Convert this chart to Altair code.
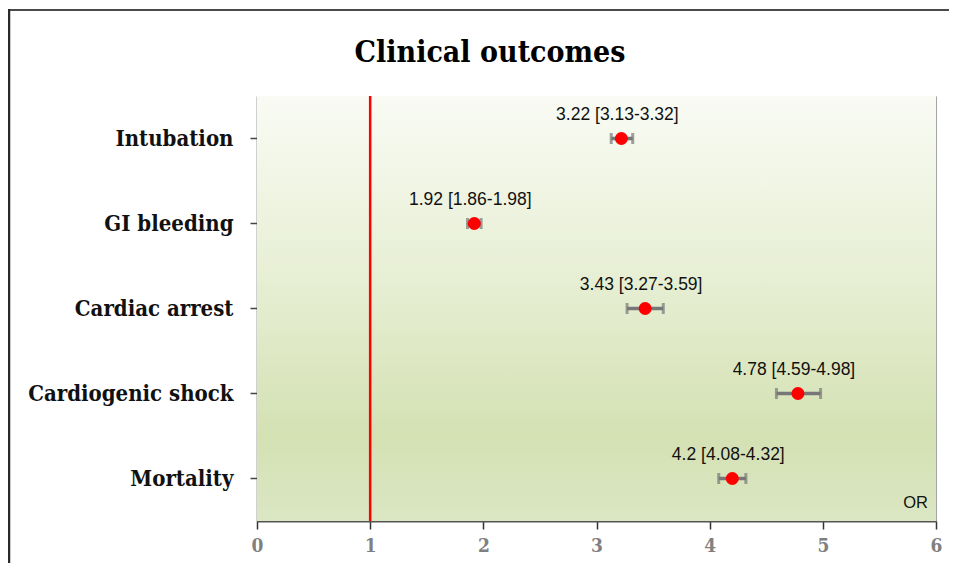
import altair as alt
import pandas as pd

outcomes = ["Intubation", "GI bleeding", "Cardiac arrest", "Cardiogenic shock", "Mortality"]
odds_ratio = [3.22, 1.92, 3.43, 4.78, 4.2]
ci_low = [3.13, 1.86, 3.27, 4.59, 4.08]
ci_high = [3.32, 1.98, 3.59, 4.98, 4.32]
x_ticks = [0, 1, 2, 3, 4, 5, 6]
chart_title = "Clinical outcomes"

labels = [f"{o:g} [{l:g}-{h:g}]" for o, l, h in zip(odds_ratio, ci_low, ci_high)]
df = pd.DataFrame({"outcome": outcomes, "or": odds_ratio, "lo": ci_low, "hi": ci_high, "label": labels})
one = pd.DataFrame({"k": [0]})

W, H = 679, 425
serif = "DejaVu Serif Condensed, Liberation Serif"
sans = "Liberation Sans"

xscale = alt.Scale(domain=[0, 6], nice=False, zero=True)
yscale = alt.Scale(domain=outcomes, paddingInner=0, paddingOuter=0)

# outer frame (top and left edges; the right and bottom lie outside the picture)
frame_top = alt.Chart(one).mark_rule(color="#4a4a4a", strokeWidth=2).encode(
    x=alt.value(-249), x2=alt.value(W + 80), y=alt.value(-86)
)
frame_left = alt.Chart(one).mark_rule(color="#2a2a2a", strokeWidth=2.5).encode(
    x=alt.value(-248), y=alt.value(-87), y2=alt.value(H + 120)
)

title_mark = alt.Chart(one).mark_text(font=serif, fontWeight="bold", fontSize=30, color="#000000",
                                      align="center", baseline="alphabetic", text=chart_title).encode(
    x=alt.value(233), y=alt.value(-34)
)

bg = alt.Chart(one).mark_rect(
    fill=alt.Gradient(
        gradient="linear",
        stops=[
            alt.GradientStop(color="#f9fbf4", offset=0),
            alt.GradientStop(color="#e6eed2", offset=0.45),
            alt.GradientStop(color="#d4e1b3", offset=0.8),
            alt.GradientStop(color="#dbe6c3", offset=1),
        ],
        x1=0, x2=0, y1=0, y2=1,
    )
).encode(x=alt.value(0), x2=alt.value(W), y=alt.value(0), y2=alt.value(H))

base = alt.Chart(df)

axis_layer = base.mark_point(opacity=0).encode(
    x=alt.X("or:Q", scale=xscale, title=None,
            axis=alt.Axis(values=x_ticks, format="d", grid=True, gridColor="#a5a5a5", gridWidth=1,
                          domainColor="#555555", domainWidth=2, tickColor="#333333", tickSize=8, tickWidth=1.5,
                          labelColor="#808080", labelFont=serif, labelFontWeight="bold", labelFontSize=19,
                          labelPadding=7, labelFlush=False)),
    y=alt.Y("outcome:N", scale=yscale, sort=outcomes, title=None,
            axis=alt.Axis(domainColor="#444444", domainWidth=1.5, tickColor="#444444", tickSize=7, tickWidth=1.5,
                          labelColor="#111111", labelFont=serif, labelFontWeight="bold", labelFontSize=22,
                          labelPadding=17, labelLimit=400, grid=False)),
)

ref = alt.Chart(one).mark_rule(color="#ff0000", strokeWidth=2.5).encode(
    x=alt.datum(1, scale=xscale), y=alt.value(0), y2=alt.value(H)
)

err = base.mark_rule(color="#777777", strokeWidth=3.5).encode(
    x=alt.X("lo:Q", scale=xscale), x2="hi:Q", y=alt.Y("outcome:N", scale=yscale, sort=outcomes)
)
cap_lo = base.mark_tick(color="#777777", orient="vertical", size=11, thickness=3).encode(
    x=alt.X("lo:Q", scale=xscale), y=alt.Y("outcome:N", scale=yscale, sort=outcomes)
)
cap_hi = base.mark_tick(color="#777777", orient="vertical", size=11, thickness=3).encode(
    x=alt.X("hi:Q", scale=xscale), y=alt.Y("outcome:N", scale=yscale, sort=outcomes)
)
pts = base.mark_circle(color="#ff0000", opacity=1, size=170).encode(
    x=alt.X("or:Q", scale=xscale), y=alt.Y("outcome:N", scale=yscale, sort=outcomes)
)
txt = base.mark_text(font=sans, fontSize=17.5, color="#111111", dy=-24, dx=-4).encode(
    x=alt.X("or:Q", scale=xscale), y=alt.Y("outcome:N", scale=yscale, sort=outcomes), text="label:N"
)
or_lbl = alt.Chart(one).mark_text(font=sans, fontSize=16.5, color="#111111", align="right", baseline="middle",
                                  text="OR").encode(x=alt.value(W - 8), y=alt.value(H - 18))

chart = alt.layer(frame_top, frame_left, title_mark, bg, axis_layer, ref, err, cap_lo, cap_hi, pts, txt,
                  or_lbl).properties(
    width=W, height=H,
    autosize=alt.AutoSizeParams(type="none"),
    padding={"left": 249, "top": 88, "right": 13, "bottom": 42},
).configure_view(stroke="#555555", strokeWidth=1.5).configure(background="#ffffff")

chart.save("out.html", embed_options={"renderer": "svg", "actions": False})
